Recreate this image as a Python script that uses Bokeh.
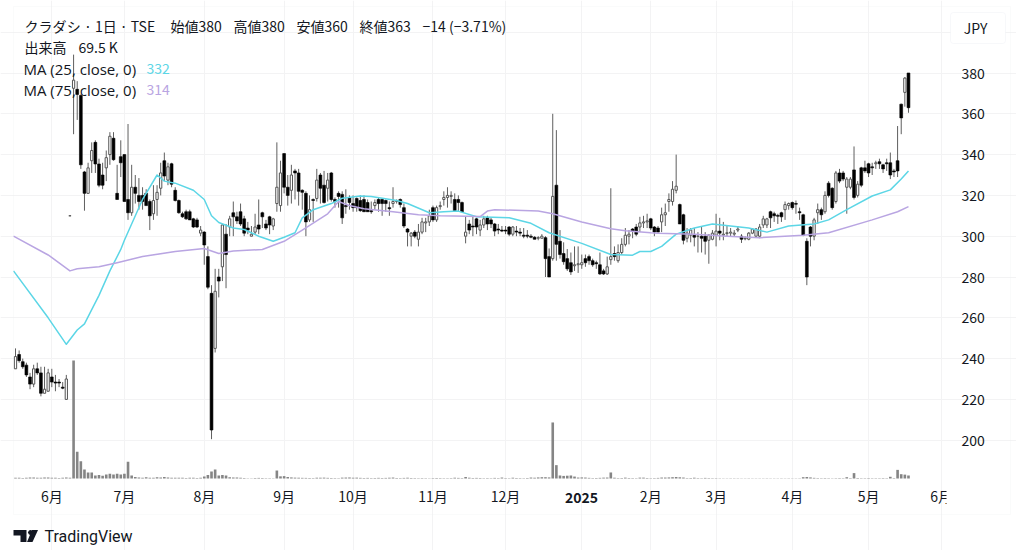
from bokeh.embed import file_html
from bokeh.resources import INLINE
from bokeh.plotting import figure
from bokeh.models import Range1d, Label, BoxAnnotation, PolyAnnotation, FixedTicker

open_ = [235,242,238.5,236.8,231,227.5,235,233,223,224, 231,228.5,228.5,226,220,310,372.5,372,369,331.5,
321,337,346,335.4,330,333.5,340,348,321,339, 340,318,311.5,324,320,320,321,317,311,318,
323.5,337,327.5,335.5,322.5,317.5,311,312,312,308.5, 308,301.5,302,290,272,245,280,285,301,304.5,
311.5,309.5,312,308.5,304,300,302,305.5,311.5,306, 309.5,305,316,315,340.5,324,322.5,332,331,322.5,
321,308,318,318.5,330,325,323.5,331,318,321, 320.5,315,319,316,318.5,317.5,318,316.5,312.5,315,
318,318,317.5,314,316,317,318,314,303.5,300, 302,298.5,302,306.5,307,314,308,314.5,318,319,
319.5,318,318,316.5,300,306,305,308.5,303,305.5, 309,308,306,303.5,303,303,304.5,301,302.5,302,
300.5,300.5,300,299.5,299,299,299.3,290,289,325, 297.5,291.5,289,287,285.5,286,286,289,290,288,
287,286,283,281.5,288.5,291.5,288,292,296,300, 303.5,304.5,304.5,306.5,307,308.5,304.5,304,307,310.5,
317,317,322.5,315.5,310.5,299,300.5,300.5,300,300, 300,298,298.5,300.5,302.5,300.5,301.3,301.5,301,303,
300,298.7,298.5,301.5,300,300,305.5,305.5,312,311, 310.2,311.5,313,315,316.5,316,312,310.5,297.5,304.5,
300,311.5,313,312,326,323.5,317,331,331,324, 324,332.5,320,333.5,333.5,335.5,334,335.5,336.5,335,
336,336,332,337,364.7,370.5,380]
high = [245,244,240,238,233,237,238,236,236,235, 235,232,230,228.5,232,310,389,376,369.5,332,
336,346,347,338,336,342,351,351,335,347, 340,355,335,330,328.5,324,323,318,325,325,
336,341,336,336,324,318,312,313,313,309, 309,305,302.5,295,276,284,284,306,306,310,
317,312,316,310,307,305,311,318,312,308, 310,309,346,337,340.5,330,335,333,333,323,
322,320,318.5,333,331,332,331,331.5,319,322, 322,323,320,320,319,320,320,318,317,318,
319,318.5,318,317,324,318,318.5,316,304,302, 303,306,309,309,313,315,315,317,322,324,
322,321,320,317,309.5,308,310,309,308,310, 310,309,306.5,306,305,305,305,305,305,304,
304,303,301,300,300,301,300,294,360,352, 303,297,293.7,292,295,295,291,291,291,289,
288,292,284,290,323.5,295,296,299,304,303, 304,306,309.5,310,311,309,305,305,314,316,
321,327,340,316,311,304,304,304,302,305, 302,301,303,311,309,307,305,304,303,305,
301,300,302,304,304,306,310,309,312.5,312, 311,312,317,316.5,317,317.5,314,311,299,305,
309,316,314,322,327,324,332,333,332,329, 329,344,327,334,337,336,336,337,338,335.5,
338,341,333,354,365,378,380]
low = [235,238,235,231,225,226,232,221.5,223,224, 226,224,226,225,220,310,350,357,333,312.5,
321,331,331,324,323,327,335,337,318,329, 317,308,310,316,313,313,315,303,308,310,
320,327,325,324,317,311,309,308,308,304, 304,300,286,274,200.5,243,270,278,274.5,300,
300,306,305,300,301,300,301,301,304,303, 301,303,312,312,321,315,316,318,315,313,
300,307,307,317,316,316,317,317,314,314, 306,311,313,312,312,312,312,312,311,313,
312,310,312,310,314,316,314,304,295,295, 299,295,301,302,305,307,307,313,315,314,
316,312,312,312,296.5,301,300,301,300,304, 303,304,300,301,302,301,300,300,300,300,
299,299,299,298.5,298,299,280,280,288,288, 289,286,283,281,283,282,284,285,286,285,
284,281,281,281,286,288,287,291,295,296, 299,300,302,304,304,303,300,302,302,305,
312,315,321,306,296,297,297,295,292,292, 291,286.5,298,295,298,298,300,300,300,302,
296.7,298,298,301,299.5,299,304,304,304,307, 306,307,308,313,313,311,308,300,276,295,
298,306,308,311,319,313,316,326,327,311, 323,318,319,324,331,329,330,333,333,331,
332,328,329,329,350,363.5,360.5]
close = [241,239,236,232,227.5,235,233,223,225,233, 228.5,228,228,225.5,230,310,376.5,369.5,335,321,
333.5,342,335.4,325,325,338.5,349,337.5,318,336, 317,311.5,324,321,317,317,315,310,317.5,321.5,
331,329.5,334,325.5,317.5,311.5,309.5,308.5,308,304.5, 304.5,303,295.7,275,205,273,278,305.5,291,308.5,
309.5,307.5,306,301.5,303,301,304.5,303.5,309.5,304, 305.5,308.5,324,331,324,320,330,331,322,321.5,
307,313,317.5,327.5,323.5,316.5,327.5,318,317,319.5, 309,314.5,316.5,314,314,312.5,312,312,312,316.5,
316,316,316,313.5,317,317.5,315.5,305,302,301.5, 300,302,307,307,310,308,314,315,319,320,
320,312.5,316.5,312,302,303,304.5,304.5,305.5,308.5, 306,306,302.5,303,302.5,302.5,301,304.5,302,301.5,
300,300,299.5,298.5,299.3,300,289,280,319.5,296, 291,287.5,284,282.5,286,286.5,287,287,288,286,
286.5,281.5,281.5,285,290,290,292,296,300.5,301, 302.5,301,306.5,307,307.5,304,302,302,310.5,311.5,
318,323,324.5,306,298,301.5,303,299.5,300,299, 297.5,300.5,301.5,302.5,301.5,301,301.7,302,301.5,303.5,
298.5,299,301.5,303.5,303.5,304.5,308.5,308.5,309,310, 309.8,309.5,315.5,316,314,315.7,311.5,300.5,280,300,
308,313,310.5,320,320,314,331,327,328,328, 328,319,325.5,325,332,331,333.5,336,335.5,333,
335.5,330,331.5,332,358,377.5,363]
volume = [15,18,14,20,22,25,20,18,22,24, 16,18,14,20,25,20,2740,620,400,210,
140,140,70,80,65,95,110,90,110,90, 110,390,70,35,25,20,30,18,20,30,
25,35,22,20,18,15,15,12,15,15, 14,15,45,80,160,210,70,80,70,30,
25,25,15,10,8,8,12,14,12,8, 8,6,185,50,55,35,25,20,18,15,
14,12,10,18,18,20,15,12,10,8, 20,22,24,18,20,15,12,14,10,12,
15,12,14,18,22,12,10,14,18,12, 10,8,10,8,6,10,12,10,8,8,
10,18,14,10,35,18,12,14,12,8, 10,8,14,10,22,10,8,18,12,10,
8,12,22,18,25,30,30,25,1300,310, 70,60,65,70,45,22,25,22,15,10,
12,15,20,22,140,18,10,12,20,12, 10,8,20,20,12,8,10,14,22,22,
25,30,35,28,22,10,12,18,10,8, 14,10,8,8,6,5,5,6,6,6,
5,5,6,5,5,5,5,6,5,5, 5,6,5,6,5,5,6,30,35,25,
15,10,8,10,8,6,8,10,8,30, 10,125,12,8,8,10,8,8,8,10,
8,40,10,200,100,90,69.5]

ma25_idx = [-0.55,9,14,17,19,23,26,29,30,35,39,41,44,49,52,54,56,60,63,67,71,74,77,79,82,87,90,95,98,105,108,114,118,122,127,136,142,147,156,164,170,172,175,178,182,187,192,202,207,213,220,224,229,236,241,244,246]
ma25_val = [283,260,247,254,257,271,283,293.5,298,318,330,327,326,322.5,318,310,306.7,304,303.3,300,297.5,299.5,301.7,309,313,316,318.6,319.7,319.5,317.5,316,311.5,312,312.3,309.5,309,306.3,301.7,296.5,291,290.7,292.5,292.5,295,301,304,306,304,302,305,306,308,313,319.7,322.7,328,332]
ma75_idx = [-0.55,9,15,17,23,28,35,44,52,56,60,68,74,79,86,89,92,96,104,111,117,128,130,132,144,148,156,164,168,175,177,187,196,205,217,224,236,243,246]
ma75_val = [300,290.8,283,284,285,287,290,292.5,294,291.5,292.7,293.5,297.5,303,311,317,315,313.5,312,310.5,310,309.6,312.3,313,312.3,311,307,303.7,302.7,301.7,301.5,301,300,299.3,300.5,301.7,308,312,314.5]

month_ticks = [10,30,52,74,93,115,135,156,175,193,214,235,255]
month_labels = ["6月","7月","8月","9月","10月","11月","12月","","2月","3月","4月","5月","6月"]
price_ticks = [200,220,240,260,280,300,320,340,360,380,400]

n = len(close)
idx = list(range(n))
up = [i for i in idx if close[i] >= open_[i]]
dn = [i for i in idx if close[i] < open_[i]]

INK = "#131722"
FONT = "Noto Sans CJK JP"
LATIN = "Open Sans"

W, H = 1016, 550
BAR = 3.63      # pixels per bar
PX = 2.04       # pixels per price unit
def ix(px):
    return (px - 15) / BAR
def pr(py):
    return 380 - (py - 72.5) / PX

p = figure(width=W, height=H, output_backend="svg", toolbar_location=None,
           x_range=Range1d(ix(0), ix(W)), y_range=Range1d(pr(H), pr(0)),
           y_axis_location="right", min_border_left=0, min_border_right=0,
           min_border_top=0, min_border_bottom=0, background_fill_color="white",
           outline_line_color=None, border_fill_color="white")
VP = 23.2
p.extra_y_ranges = {"vol": Range1d((478 - H) * VP, 478 * VP)}

p.xaxis.ticker = FixedTicker(ticks=month_ticks)
p.xaxis.major_label_overrides = {t: l for t, l in zip(month_ticks, month_labels)}
p.yaxis.ticker = FixedTicker(ticks=price_ticks)
p.yaxis.major_label_overrides = {400: ""}
for ax in (p.xaxis[0], p.yaxis[0]):
    ax.axis_line_color = None
    ax.major_tick_line_color = None
    ax.minor_tick_line_color = None
    ax.major_label_text_color = INK
    ax.major_label_text_font = FONT
    ax.major_label_text_font_size = "14px"
p.xaxis[0].fixed_location = pr(478)
p.yaxis[0].fixed_location = ix(945)
p.xaxis.major_label_standoff = 1
p.yaxis.major_label_standoff = 10
p.xgrid.grid_line_color = "#f3f3f4"
p.ygrid.grid_line_color = "#f3f3f4"
p.xgrid.bounds = (pr(478), pr(6))
p.ygrid.bounds = (ix(13), ix(945))

p.vbar(x=idx, top=volume, bottom=0, width=0.72, y_range_name="vol",
       fill_color="#858585", line_color=None)
p.segment(x0=idx, x1=idx, y0=low, y1=high, line_color="#5f5f5f", line_width=1)
p.vbar(x=up, top=[close[i] for i in up], bottom=[open_[i] for i in up], width=0.62,
       fill_color="white", line_color="#555555", line_width=1)
p.vbar(x=dn, top=[open_[i] for i in dn], bottom=[close[i] for i in dn], width=0.78,
       fill_color="black", line_color="black", line_width=0.6)
p.line(ma25_idx, ma25_val, line_color="#5cd6e6", line_width=1.5, line_join="round")
p.line(ma75_idx, ma75_val, line_color="#b9a5e2", line_width=1.5, line_join="round")


def txt(x, y, s, color=INK, size=14, weight="normal", align="left", font=FONT):
    p.add_layout(Label(x=x, y=y, x_units="canvas", y_units="canvas", text=s,
                       text_color=color, text_font_size=f"{size}px", text_font=font,
                       text_font_style=weight, text_align=align, text_baseline="middle"))


def box(l, r, t, b, **kw):
    p.add_layout(BoxAnnotation(left=l, right=r, top=t, bottom=b, left_units="canvas",
                               right_units="canvas", top_units="canvas", bottom_units="canvas", **kw))


# white cover that clips the last month label at the edge of the pane
box(946, 958, 484, 510, fill_color="white", fill_alpha=1, line_color=None)
# panel outline
box(13, 1010, 6, 514, fill_alpha=0, line_color="#f0f1f3", line_width=1)
# currency button
box(950, 1005, 12, 43, fill_color="white", fill_alpha=1, line_color="#e6e8ee", line_width=1, border_radius=3)
txt(975, 27, "JPY", align="center")

txt(24, 25, "クラダシ · 1日 · TSE")
txt(170, 25, "始値380")
txt(233, 25, "高値380")
txt(296, 25, "安値360")
txt(359, 25, "終値363")
txt(422, 25, "−14 (−3.71%)")
txt(24, 46, "出来高")
txt(78, 46, "69.5 K")
txt(23, 68, "MA (25, close, 0)", font=LATIN, size=15)
txt(146, 68, "332", color="#5cd6e6")
txt(23, 89, "MA (75, close, 0)", font=LATIN, size=15)
txt(146, 89, "314", color="#b9a5e2")
txt(581, 497, "2025", weight="bold", align="center")

# TradingView mark and name
for xs, ys in [([13, 26, 26, 20, 20, 13], [529.5, 529.5, 541.5, 541.5, 535, 535]),
               ([28.5, 30, 31.5, 32.7, 31.5, 30, 28.5, 27.3], [530, 529.4, 530, 532, 534, 534.6, 534, 532]),
               ([31.5, 37.5, 32, 26.5], [529.5, 529.5, 541.5, 541.5])]:
    p.add_layout(PolyAnnotation(xs=xs, ys=ys, xs_units="canvas", ys_units="canvas",
                                fill_color=INK, fill_alpha=1, line_color=None))
txt(44, 536, "TradingView", size=16, font="Roboto")

open("out.html", "w").write(file_html(p, INLINE))
